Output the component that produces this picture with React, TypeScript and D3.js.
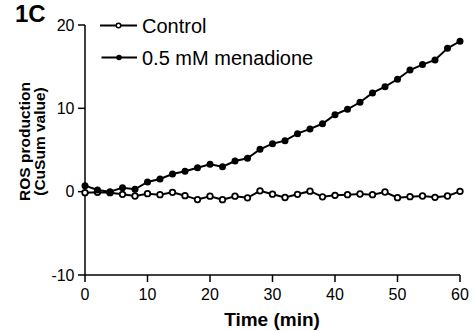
import React from "react";
import * as d3 from "d3";

const times = d3.range(0, 61, 2);
const controlValues = [
  -0.12, -0.08, -0.12, -0.32, -0.52, -0.24, -0.36, -0.08, -0.48, -0.95,
  -0.54, -0.96, -0.54, -0.74, 0.1, -0.3, -0.7, -0.32, 0.06, -0.62,
  -0.44, -0.36, -0.28, -0.36, -0.04, -0.72, -0.6, -0.52, -0.68, -0.52, 0.04,
];
const menadioneValues = [
  0.72, 0.2, 0.0, 0.48, 0.29, 1.16, 1.52, 2.12, 2.45, 2.88,
  3.29, 3.0, 3.68, 4.0, 5.09, 5.76, 6.12, 6.96, 7.53, 8.15,
  9.24, 9.89, 10.73, 11.85, 12.6, 13.49, 14.6, 15.25, 15.8, 17.2, 18.05,
];
const xTicks = [0, 10, 20, 30, 40, 50, 60];
const yTicks = [-10, 0, 10, 20];
const seriesNames = ["Control", "0.5 mM menadione"];

const FONT = "Arial, 'Liberation Sans', Helvetica, sans-serif";

export default function App() {
  const W = 473;
  const H = 331;
  const x = d3.scaleLinear().domain([0, 60]).range([85, 460]);
  const y = d3.scaleLinear().domain([-10, 20]).range([275, 25]);
  const line = d3
    .line<[number, number]>()
    .x((d) => x(d[0]))
    .y((d) => y(d[1]));
  const ctrl: [number, number][] = times.map((t, i) => [t, controlValues[i]]);
  const men: [number, number][] = times.map((t, i) => [t, menadioneValues[i]]);

  return (
    <svg
      width={W}
      height={H}
      style={{ position: "absolute", left: 0, top: 0, background: "#fff" }}
      fontFamily={FONT}
    >
      <rect width={W} height={H} fill="#fff" />
      {/* axes */}
      <line x1={x(0)} x2={x(0)} y1={y(20)} y2={y(-10)} stroke="#000" strokeWidth={1.5} />
      <line x1={x(0)} x2={x(60)} y1={y(-10)} y2={y(-10)} stroke="#000" strokeWidth={1.5} />
      {yTicks.map((t) => (
        <g key={"y" + t}>
          <line x1={x(0) - 7} x2={x(0)} y1={y(t)} y2={y(t)} stroke="#000" strokeWidth={1.5} />
          <text x={x(0) - 10.5} y={y(t)} dy="0.36em" textAnchor="end" fontSize={16}>
            {t}
          </text>
        </g>
      ))}
      {xTicks.map((t) => (
        <g key={"x" + t}>
          <line x1={x(t)} x2={x(t)} y1={y(-10)} y2={y(-10) + 7} stroke="#000" strokeWidth={1.5} />
          <text x={x(t)} y={299.5} textAnchor="middle" fontSize={16}>
            {t}
          </text>
        </g>
      ))}
      <text x={272} y={326} textAnchor="middle" fontSize={19} fontWeight="bold">
        Time (min)
      </text>
      <g transform="translate(29.5,141.5) rotate(-90)">
        <text x={0} y={0} textAnchor="middle" fontSize={15.5} fontWeight="bold">
          ROS production
        </text>
        <text x={0} y={15} textAnchor="middle" fontSize={15.5} fontWeight="bold">
          (CuSum value)
        </text>
      </g>
      <text x={15} y={22} fontSize={24} fontWeight="bold">
        1C
      </text>

      {/* series */}
      <path d={line(ctrl) || ""} fill="none" stroke="#000" strokeWidth={2} />
      {ctrl.map((d, i) => (
        <circle key={"c" + i} cx={x(d[0])} cy={y(d[1])} r={2.8} fill="#fff" stroke="#000" strokeWidth={1.8} />
      ))}
      <path d={line(men) || ""} fill="none" stroke="#000" strokeWidth={2} />
      {men.map((d, i) => (
        <circle key={"m" + i} cx={x(d[0])} cy={y(d[1])} r={3.5} fill="#000" />
      ))}

      {/* legend */}
      <line x1={100} x2={137} y1={25.5} y2={25.5} stroke="#000" strokeWidth={2} />
      <circle cx={118.5} cy={25.5} r={2.3} fill="#fff" stroke="#000" strokeWidth={1.5} />
      <text x={142} y={32.5} fontSize={20}>
        {seriesNames[0]}
      </text>
      <line x1={101.5} x2={137} y1={57.5} y2={57.5} stroke="#000" strokeWidth={2} />
      <circle cx={119} cy={57.5} r={2.8} fill="#000" />
      <text x={142} y={65} fontSize={20}>
        {seriesNames[1]}
      </text>
    </svg>
  );
}
